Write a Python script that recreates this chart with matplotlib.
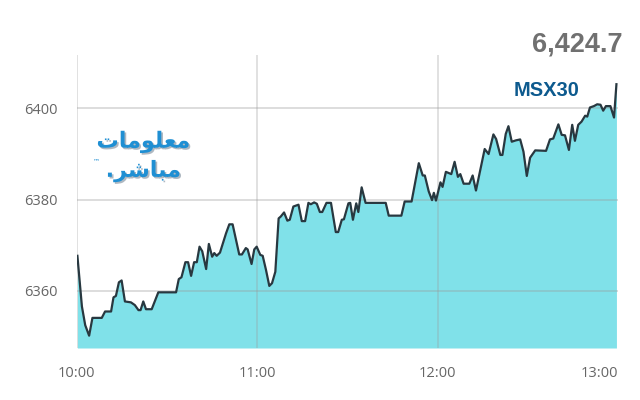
import matplotlib
matplotlib.use("Agg")
import matplotlib.pyplot as plt
import matplotlib.patheffects as pe

# minutes after 10:00 and index level
minutes = [0.2, 1.7, 2.8, 4.1, 5.2, 8.3, 9.4, 11.4, 12.2, 13.0, 14.0, 14.9, 16.0, 18.0,
           19.3, 20.5, 21.2, 22.1, 23.0, 24.9, 27.1, 33.0, 33.9, 34.8, 36.1, 37.0,
           38.0, 39.0, 39.9, 40.8, 41.7, 43.0, 43.9, 45.0, 45.7, 46.5, 47.6, 49.6,
           50.7, 51.8, 54.0, 54.9, 56.2, 56.8, 58.1, 59.0, 59.8, 61.0, 61.8, 62.9,
           64.0, 64.9, 66.0, 67.1, 67.8, 68.9, 70.0, 70.8, 72.0, 73.7, 74.8, 75.9,
           77.0, 77.8, 78.9, 79.8, 80.8, 81.6, 83.0, 84.5, 86.1, 86.9, 88.1, 88.8,
           90.3, 90.9, 91.8, 92.9, 93.6, 94.7, 96.0, 102.7, 103.7, 107.9, 109.0,
           111.3, 113.7, 115.0, 115.7, 117.0, 118.1, 118.7, 119.4, 120.9, 121.6,
           122.7, 124.5, 125.6, 126.7, 127.5, 128.6, 130.5, 131.6, 132.7, 135.6,
           136.9, 138.5, 139.4, 140.8, 141.5, 142.6, 143.5, 144.6, 146.0, 147.4,
           148.5, 149.6, 150.7, 152.4, 156.0, 157.3, 158.4, 160.1, 161.2, 162.3,
           163.6, 164.7, 165.6, 166.7, 167.8, 169.0, 169.7, 170.6, 171.9, 173.0,
           174.1, 175.0, 175.9, 177.4, 178.6, 179.4]
values = [6367.7, 6356.6, 6352.5, 6350.2, 6354.1, 6354.1, 6355.5, 6355.5, 6358.6, 6358.9,
          6361.9, 6362.3, 6357.7, 6357.5, 6356.9, 6355.8, 6355.8, 6357.7, 6356.0,
          6356.0, 6359.7, 6359.7, 6362.6, 6363.0, 6366.3, 6366.3, 6363.3, 6366.3,
          6366.3, 6369.7, 6368.7, 6364.8, 6370.3, 6367.5, 6368.3, 6367.7, 6368.4,
          6372.6, 6374.6, 6374.6, 6368.0, 6368.0, 6369.4, 6369.1, 6365.9, 6369.1,
          6369.7, 6367.9, 6367.7, 6364.6, 6361.1, 6361.7, 6364.2, 6375.9, 6376.3,
          6377.2, 6375.4, 6375.6, 6378.5, 6378.9, 6375.3, 6375.3, 6379.3, 6379.0,
          6379.4, 6379.1, 6377.3, 6377.3, 6379.3, 6379.3, 6372.9, 6372.9, 6375.6,
          6375.7, 6379.2, 6379.3, 6375.6, 6379.2, 6377.3, 6382.7, 6379.3, 6379.3,
          6376.5, 6376.5, 6379.6, 6379.6, 6388.0, 6385.3, 6385.3, 6381.8, 6379.9,
          6381.5, 6379.8, 6383.8, 6382.8, 6386.1, 6385.6, 6388.3, 6385.0, 6385.6,
          6383.5, 6383.5, 6385.3, 6382.0, 6391.1, 6390.0, 6394.3, 6393.3, 6389.8,
          6389.8, 6394.4, 6396.1, 6392.7, 6393.0, 6393.2, 6390.5, 6385.2, 6389.2,
          6390.8, 6390.7, 6393.2, 6393.4, 6396.5, 6394.2, 6394.1, 6390.9, 6396.4,
          6392.9, 6396.4, 6397.1, 6398.4, 6398.2, 6400.2, 6400.5, 6400.9, 6400.8,
          6399.5, 6400.5, 6400.5, 6398.0, 6405.3]

x_ticks = [0, 60, 120, 180]
x_labels = ["10:00", "11:00", "12:00", "13:00"]
y_ticks = [6360, 6380, 6400]
last_value = "6,424.7"
index_name = "MSX30"

fig = plt.figure(figsize=(6.4, 4.0), dpi=100)
ax = fig.add_axes([0.120, 0.13, 0.846, 0.7325])

y_min = 6347.5
ax.fill_between(minutes, values, y_min, color="#80e1e9", lw=0, zorder=1)
ax.plot(minutes, values, color="#283840", lw=1.6, zorder=3)

for t in y_ticks:
    ax.axhline(t, color="#9a9a9a", alpha=0.4, lw=1.2, zorder=2)
for t in x_ticks[:-1]:
    ax.axvline(t, color="#9a9a9a", alpha=0.35, lw=1.2, zorder=2)

ax.set_xlim(0, 180)
ax.set_ylim(y_min, 6411.7)
ax.set_xticks(x_ticks)
ax.set_xticklabels(x_labels)
ax.set_yticks(y_ticks)
ax.set_yticklabels([str(v) for v in y_ticks])
ax.tick_params(length=0, labelsize=10.5, labelcolor="#666666")
ax.tick_params(axis="y", pad=14)
ax.tick_params(axis="x", pad=13)
for lab in ax.get_xticklabels() + ax.get_yticklabels():
    lab.set_fontfamily("Open Sans")
ax.get_xticklabels()[-1].set_horizontalalignment("right")
for s in ax.spines.values():
    s.set_visible(False)

fig.text(0.973, 0.89, last_value, ha="right", va="center", fontsize=19.5,
         fontweight="bold", color="#707070", family="Liberation Sans")
fig.text(0.905, 0.775, index_name, ha="right", va="center",
         fontsize=14.5, fontweight="bold", color="#0d5a8e", family="Liberation Sans",
         zorder=5)

# logo: "معلومات مباشر" in shaped presentation forms, visual order
shadow = [pe.withSimplePatchShadow(offset=(1.2, -1.2), shadow_rgbFace="#7a8a99", alpha=0.6)]
fig.text(0.224, 0.645, "\ufe95\ufe8e\ufee3\ufeee\ufee0\ufecc\ufee3", ha="center",
         va="center", fontsize=16, fontweight="bold", color="#1f8fd3",
         family="DejaVu Sans", path_effects=shadow)
fig.text(0.224, 0.572, ".\ufeae\ufeb7\ufe8e\ufe92\ufee3", ha="center", va="center",
         fontsize=16, fontweight="bold", color="#1f8fd3", family="DejaVu Sans",
         path_effects=shadow)
fig.text(0.15, 0.598, "\u2122", ha="center", va="center", fontsize=5,
         color="#1f8fd3", family="DejaVu Sans")

fig.savefig("out.png", dpi=100)
